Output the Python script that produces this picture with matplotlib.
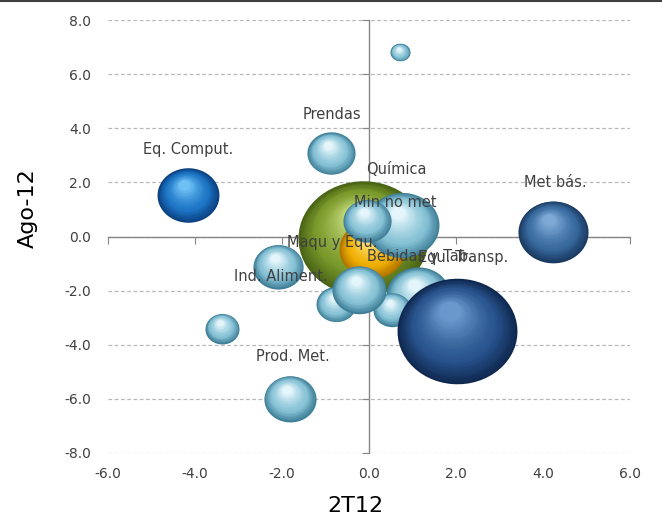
import numpy as np
import matplotlib
matplotlib.use("Agg")
import matplotlib.pyplot as plt
from matplotlib.colors import to_rgb
from matplotlib.transforms import ScaledTranslation
from matplotlib.lines import Line2D

# bubble data (drawing order = list order)
bx = [-0.14, 0.71, -0.87, -4.16, 4.23, -3.38, -1.82, -2.09, 0.07, 0.76, -0.05, -0.76, 1.13, 0.53, 2.02, -0.23]
by = [-0.07, 6.80, 3.07, 1.52, 0.18, -3.40, -5.99, -1.11, -0.48, 0.41, 0.59, -2.51, -2.18, -2.70, -3.51, -1.96]
bw = [42.3, 1.0, 5.8, 9.6, 12.3, 2.9, 6.8, 6.3, 10.9, 13.7, 5.8, 4.0, 10.2, 3.6, 36.0, 7.3]
bcol = ["green", "light", "light", "bright", "steel", "light", "light", "light",
        "orange", "light", "light", "light", "light", "light", "navy", "light"]

# data labels
lab_text = ["Prendas", "Eq. Comput.", "Química", "Met bás.", "Min no met",
            "Maqu y Equ.", "Bebidas y Tab.", "Equ. Transp.", "Ind. Aliment.", "Prod. Met."]
lab_x = [-0.85, -4.16, 0.62, 4.28, 0.60, -0.85, 1.17, 2.16, -2.02, -1.75]
lab_y = [4.51, 3.22, 2.48, 2.00, 1.26, -0.22, -0.74, -0.78, -1.48, -4.43]

xticks = np.arange(-6, 6.1, 2)
yticks = np.arange(-8, 8.1, 2)

palettes = {
    "light":  ("#3f7f98", "#86c2d6", "#e4f6fb"),
    "bright": ("#0a3f7e", "#1c74c4", "#6cc0f4"),
    "steel":  ("#1b3a62", "#386a9f", "#7ea9d6"),
    "navy":   ("#0f2850", "#28538d", "#6a98cc"),
    "green":  ("#4a6415", "#7b9a2c", "#c2d878"),
    "orange": ("#b07200", "#efae00", "#ffe37a"),
}

ASPECT = 0.88
th = np.linspace(0, 2 * np.pi, 60)
ell = list(zip(np.cos(th), ASPECT * np.sin(th)))

fig = plt.figure(figsize=(6.62, 5.22), dpi=100)
ax = fig.add_axes([108 / 662, 1 - 453 / 522, 522 / 662, 433 / 522])
ax.set_xlim(-6, 6)
ax.set_ylim(-8, 8)

# gridlines
for yv in yticks:
    ax.axhline(yv, color="#b8b8b8", lw=0.9, ls=(0, (3, 2)), zorder=0)

# axes crossing at zero
for side in ["top", "right"]:
    ax.spines[side].set_visible(False)
for side in ["left", "bottom"]:
    ax.spines[side].set_position(("data", 0))
    ax.spines[side].set_color("#868686")
    ax.spines[side].set_linewidth(1.0)
    ax.spines[side].set_zorder(0.5)
ax.set_xticks(xticks)
ax.set_yticks(yticks)
ax.tick_params(direction="out", length=5, color="#868686", labelbottom=False, labelleft=False)

secx = ax.secondary_xaxis("bottom")
secx.set_xticks(xticks)
secx.set_xticklabels([f"{v:.1f}" for v in xticks])
secx.spines["bottom"].set_visible(False)
secx.tick_params(length=0, pad=10, labelsize=10, labelcolor="#404040")

secy = ax.secondary_yaxis("left")
secy.set_yticks(yticks)
secy.set_yticklabels([f"{v:.1f}" for v in yticks])
secy.spines["left"].set_visible(False)
secy.tick_params(length=0, pad=12, labelsize=10, labelcolor="#404040")

title_font = ["Liberation Sans Narrow", "DejaVu Sans"]
fig.text(355 / 662, 1 - 506 / 522, "2T12", ha="center", va="center", fontsize=16,
         family=title_font, color="black")
fig.text(28 / 662, 1 - 208 / 522, "Ago-12", ha="center", va="center", fontsize=16,
         rotation=90, family=title_font, color="black")

K = 207.4  # points^2 per weight unit
n_layers = 28


def mix(c1, c2, t):
    a, b = np.array(to_rgb(c1)), np.array(to_rgb(c2))
    return tuple(a + (b - a) * t)


z = 2
for x, y, w, c in zip(bx, by, bw, bcol):
    dark, mid, light = palettes[c]
    d_pt = np.sqrt(K * w)
    r_in = d_pt / 2 / 72
    for k in range(n_layers):
        t = k / (n_layers - 1)
        f = 1 - 0.82 * t
        if t < 0.35:
            col = mix(dark, mid, t / 0.35)
        else:
            col = mix(mid, light, ((t - 0.35) / 0.65) ** 1.3)
        off = ScaledTranslation(-0.12 * t * r_in, 0.38 * t * r_in * ASPECT, fig.dpi_scale_trans)
        ax.scatter([x], [y], s=(d_pt * f) ** 2, marker=ell, color=col, linewidths=0,
                   transform=ax.transData + off, zorder=z)
        z += 0.001
    z += 1

for txt, x, y in zip(lab_text, lab_x, lab_y):
    ax.text(x, y, txt, ha="center", va="center", fontsize=10.5, color="#404040", zorder=200)

fig.add_artist(Line2D([0, 1], [0.999, 0.999], color="#404040", lw=1.5))

fig.savefig("out.png", dpi=100)
